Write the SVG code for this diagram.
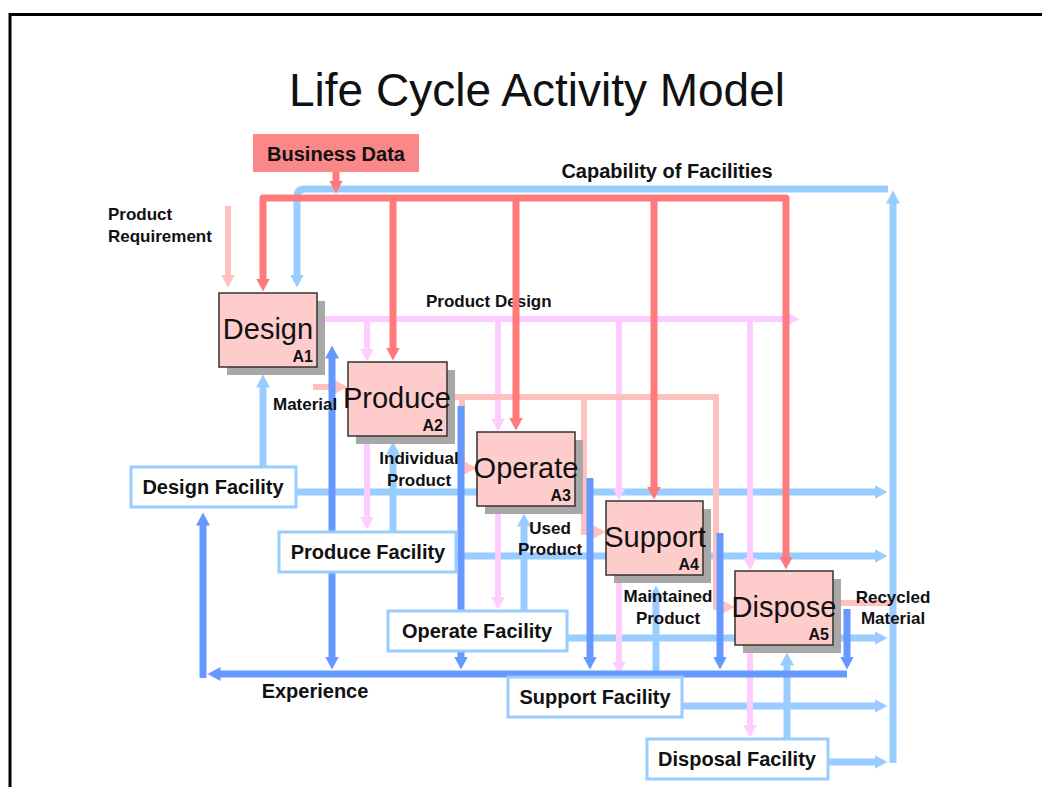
<svg xmlns="http://www.w3.org/2000/svg" width="1042" height="787" viewBox="0 0 1042 787">
<style>
  .t{font-family:"Liberation Sans",Arial,sans-serif;fill:#111}
  .lb{font-family:"Liberation Sans",Arial,sans-serif;font-weight:bold;font-size:17px;fill:#111}
  .big{font-family:"Liberation Sans",Arial,sans-serif;font-weight:bold;font-size:20px;fill:#111}
  .act rect.sh{fill:#a8a8a8}
  .act rect.bx{fill:#ffcccc;stroke:#333;stroke-width:1.5}
  .act text.n{font-family:"Liberation Sans",Arial,sans-serif;font-size:29px;fill:#111;text-anchor:middle}
  .act text.a{font-family:"Liberation Sans",Arial,sans-serif;font-weight:bold;font-size:16px;fill:#111;text-anchor:end}
  .fac rect{fill:#fff;stroke:#99ccff;stroke-width:3}
  .fac text{font-family:"Liberation Sans",Arial,sans-serif;font-weight:bold;font-size:20px;fill:#111;text-anchor:middle}
  .red{stroke:#ff7b7b;stroke-width:7;fill:none;marker-end:url(#aR)}
  .lbl{stroke:#99ccff;stroke-width:7;fill:none;marker-end:url(#aB)}
  .lav{stroke:#ffccff;stroke-width:6;fill:none;marker-end:url(#aL)}
  .pnk{stroke:#ffc0c0;stroke-width:6;fill:none;marker-end:url(#aP)}
  .dbl{stroke:#6699ff;stroke-width:7;fill:none;marker-end:url(#aD)}
</style>
<defs>
  <marker id="aR" markerUnits="userSpaceOnUse" markerWidth="14" markerHeight="14" refX="0.5" refY="7" orient="auto-start-reverse"><path d="M0,0 L13,7 L0,14 z" fill="#ff7b7b"/></marker>
  <marker id="aB" markerUnits="userSpaceOnUse" markerWidth="14" markerHeight="14" refX="0.5" refY="7" orient="auto-start-reverse"><path d="M0,0 L13,7 L0,14 z" fill="#99ccff"/></marker>
  <marker id="aL" markerUnits="userSpaceOnUse" markerWidth="14" markerHeight="14" refX="0.5" refY="7" orient="auto-start-reverse"><path d="M0,0 L13,7 L0,14 z" fill="#ffccff"/></marker>
  <marker id="aP" markerUnits="userSpaceOnUse" markerWidth="14" markerHeight="14" refX="0.5" refY="7" orient="auto-start-reverse"><path d="M0,0 L13,7 L0,14 z" fill="#ffc0c0"/></marker>
  <marker id="aD" markerUnits="userSpaceOnUse" markerWidth="14" markerHeight="14" refX="0.5" refY="7" orient="auto-start-reverse"><path d="M0,0 L13,7 L0,14 z" fill="#6699ff"/></marker>
</defs>
<rect x="0" y="0" width="1042" height="787" fill="#fff"/>
<path d="M10,787 V14.5 H1042" fill="none" stroke="#000" stroke-width="3"/>
<text class="t" x="537" y="106" font-size="46" text-anchor="middle">Life Cycle Activity Model</text>

<g id="labels-under">
  <text class="lb" x="426" y="307">Product Design</text>
</g>

<g id="connectors">
  <!-- light blue: facilities / capability -->
  <g id="capability">
    <path class="lbl" d="M893,763 V203"/>
    <path class="lbl" d="M888,189 H305 Q297,189 297,197 V275"/>
    <path class="lbl" d="M263,467 V387"/>
    <path class="lbl" d="M296,492 H875"/>
    <path class="lbl" d="M393,532 V454"/>
    <path class="lbl" d="M456,556 H875"/>
    <path class="lbl" d="M524,611 V526"/>
    <path class="lbl" d="M567,638 H875"/>
    <path class="lbl" d="M656,677 V598"/>
    <path class="lbl" d="M682,706 H875"/>
    <path class="lbl" d="M787,739 V665"/>
    <path class="lbl" d="M828,762 H875"/>
  </g>
  <!-- lavender: product design -->
  <g id="product-design">
    <path class="lav" d="M317,319 H787"/>
    <path class="lav" d="M367,319 V349"/>
    <path class="lav" d="M498,319 V419"/>
    <path class="lav" d="M619,319 V488"/>
    <path class="lav" d="M750,319 V558"/>
    <path class="lav" d="M367,444 V517"/>
    <path class="lav" d="M498,514 V597"/>
    <path class="lav" d="M619,583 V662"/>
    <path class="lav" d="M750,653 V725"/>
  </g>
  <!-- light pink: product flow -->
  <g id="product-flow">
    <path class="pnk" d="M228,206 V275"/>
    <path class="pnk" d="M313,387 H335"/>
    <path class="pnk" d="M447,397 H716 V607 H722"/>
    <path class="pnk" d="M462,397 V468 H464"/>
    <path class="pnk" d="M584,397 V532 H593"/>
    <path class="pnk" d="M834,603 H893" style="marker-end:none"/>
  </g>
  <!-- dark blue: experience -->
  <g id="experience">
    <path class="dbl" d="M847,674 H220"/>
    <path class="dbl" d="M203,678 V525"/>
    <path class="dbl" d="M332,358 V657" style="marker-start:url(#aD)"/>
    <path class="dbl" d="M461,406 V657"/>
    <path class="dbl" d="M590,478 V657"/>
    <path class="dbl" d="M720,533 V657"/>
    <path class="dbl" d="M847,609 V657"/>
  </g>
  <!-- red: business data -->
  <g id="business-data-flow">
    <path class="red" d="M336,172 V181"/>
    <path class="red" d="M263,279 V198 H786 V557" style="marker-start:url(#aR)" stroke-linejoin="round"/>
    <path class="red" d="M393,198 V348"/>
    <path class="red" d="M516,198 V418"/>
    <path class="red" d="M654,198 V487"/>
  </g>
</g>

<g id="business-data">
  <rect x="253" y="134" width="166" height="38" fill="#fa8888"/>
  <text class="big" x="336" y="161" text-anchor="middle">Business Data</text>
</g>

<g id="design" class="act">
  <rect class="sh" x="227" y="301" width="98" height="74"/>
  <rect class="bx" x="219" y="293" width="98" height="74"/>
  <text class="n" x="268" y="339">Design</text>
  <text class="a" x="313" y="362">A1</text>
</g>
<g id="produce" class="act">
  <rect class="sh" x="356" y="370" width="99" height="74"/>
  <rect class="bx" x="348" y="362" width="99" height="74"/>
  <text class="n" x="397" y="408">Produce</text>
  <text class="a" x="443" y="431">A2</text>
</g>
<g id="operate" class="act">
  <rect class="sh" x="485" y="440" width="98" height="74"/>
  <rect class="bx" x="477" y="432" width="98" height="74"/>
  <text class="n" x="526" y="478">Operate</text>
  <text class="a" x="571" y="501">A3</text>
</g>
<g id="support" class="act">
  <rect class="sh" x="614" y="509" width="97" height="74"/>
  <rect class="bx" x="606" y="501" width="97" height="74"/>
  <text class="n" x="655" y="547">Support</text>
  <text class="a" x="699" y="570">A4</text>
</g>
<g id="dispose" class="act">
  <rect class="sh" x="743" y="579" width="98" height="74"/>
  <rect class="bx" x="735" y="571" width="98" height="74"/>
  <text class="n" x="784" y="617">Dispose</text>
  <text class="a" x="829" y="640">A5</text>
</g>

<g id="design-facility" class="fac">
  <rect x="131" y="467" width="165" height="40"/>
  <text x="213" y="494">Design Facility</text>
</g>
<g id="produce-facility" class="fac">
  <rect x="279" y="532" width="177" height="40"/>
  <text x="368" y="559">Produce Facility</text>
</g>
<g id="operate-facility" class="fac">
  <rect x="388" y="611" width="179" height="40"/>
  <text x="477" y="638">Operate Facility</text>
</g>
<g id="support-facility" class="fac">
  <rect x="508" y="677" width="174" height="40"/>
  <text x="595" y="704">Support Facility</text>
</g>
<g id="disposal-facility" class="fac">
  <rect x="647" y="739" width="181" height="40"/>
  <text x="737" y="766">Disposal Facility</text>
</g>

<g id="labels">
  <text class="big" x="667" y="178" text-anchor="middle">Capability of Facilities</text>
  <text class="lb" x="108" y="220">Product</text>
  <text class="lb" x="108" y="242">Requirement</text>
  <text class="lb" x="273" y="410">Material</text>
  <text class="lb" x="419" y="464" text-anchor="middle">Individual</text>
  <text class="lb" x="419" y="486" text-anchor="middle">Product</text>
  <text class="lb" x="550" y="534" text-anchor="middle">Used</text>
  <text class="lb" x="550" y="555" text-anchor="middle">Product</text>
  <text class="lb" x="668" y="602" text-anchor="middle">Maintained</text>
  <text class="lb" x="668" y="624" text-anchor="middle">Product</text>
  <text class="lb" x="893" y="603" text-anchor="middle">Recycled</text>
  <text class="lb" x="893" y="624" text-anchor="middle">Material</text>
  <text class="big" x="315" y="698" text-anchor="middle">Experience</text>
</g>
</svg>
